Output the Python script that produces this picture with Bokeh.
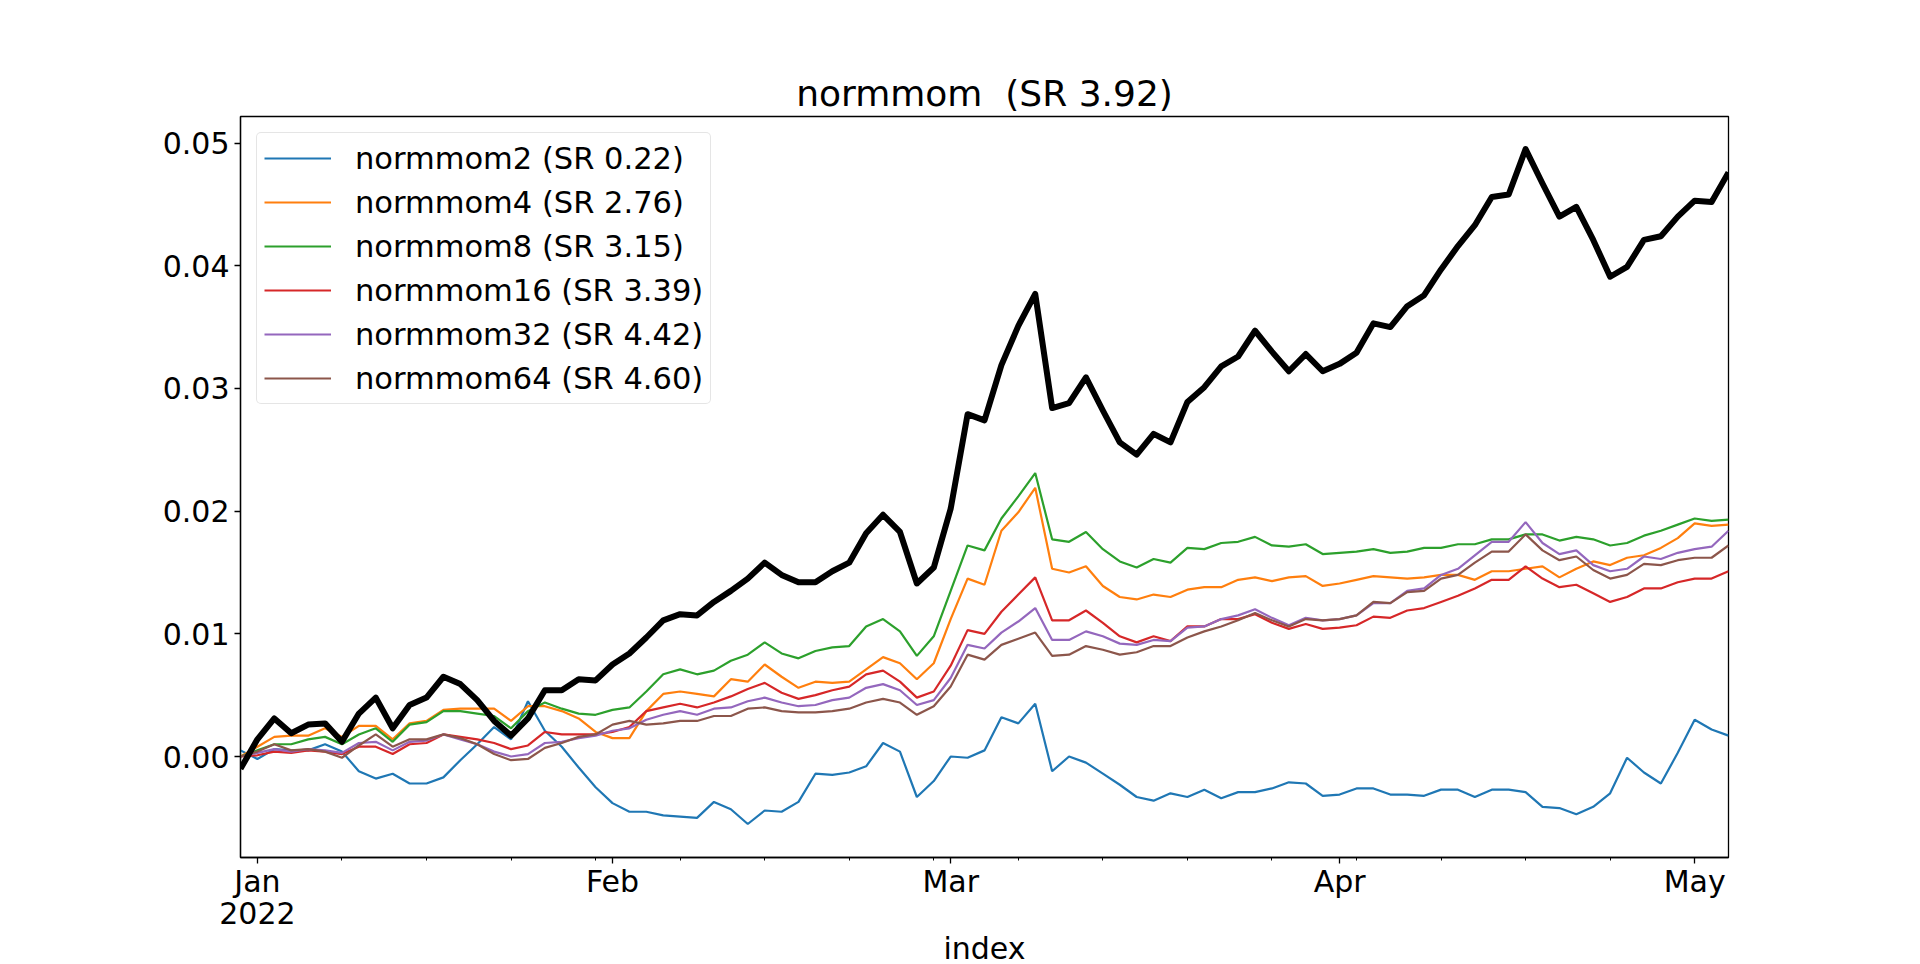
import pandas as pd
from bokeh.plotting import figure
from bokeh.models import Range1d, FixedTicker, PrintfTickFormatter, Legend, LegendItem
from bokeh.embed import file_html
from bokeh.resources import INLINE

# ---- data ----
start_date = "2021-12-31"
end_date = "2022-05-04"
dates = pd.bdate_range(start_date, end_date)

total = [-0.0010, 0.0014, 0.0031, 0.0019, 0.0026, 0.0027, 0.0012, 0.0035, 0.0048, 0.0023,
         0.0042, 0.0048, 0.0065, 0.0059, 0.0046, 0.0029, 0.0017, 0.0031, 0.0054, 0.0054,
         0.0063, 0.0062, 0.0075, 0.0084, 0.0097, 0.0111, 0.0116, 0.0115, 0.0126, 0.0135,
         0.0145, 0.0158, 0.0148, 0.0142, 0.0142, 0.0151, 0.0158, 0.0182, 0.0197, 0.0183,
         0.0141, 0.0154, 0.0202, 0.0279, 0.0274, 0.0319, 0.0351, 0.0377, 0.0284, 0.0288,
         0.0309, 0.0282, 0.0256, 0.0246, 0.0263, 0.0256, 0.0289, 0.0301, 0.0318, 0.0326,
         0.0347, 0.0330, 0.0314, 0.0328, 0.0314, 0.0320, 0.0329, 0.0353, 0.0350, 0.0367,
         0.0376, 0.0397, 0.0416, 0.0433, 0.0456, 0.0458, 0.0495, 0.0467, 0.0440, 0.0448,
         0.0421, 0.0391, 0.0399, 0.0421, 0.0424, 0.0440, 0.0453, 0.0452, 0.0476]

mom2 = [0.0005, -0.0002, 0.0006, 0.0005, 0.0005, 0.0010, 0.0004, -0.0012, -0.0018, -0.0014,
        -0.0022, -0.0022, -0.0017, -0.0003, 0.0010, 0.0024, 0.0014, 0.0045, 0.0021, 0.0008,
        -0.0009, -0.0025, -0.0038, -0.0045, -0.0045, -0.0048, -0.0049, -0.0050, -0.0037, -0.0043,
        -0.0055, -0.0044, -0.0045, -0.0037, -0.0014, -0.0015, -0.0013, -0.0008, 0.0011, 0.0004,
        -0.0033, -0.0020, 0.0000, -0.0001, 0.0005, 0.0032, 0.0027, 0.0043, -0.0012, 0.0000,
        -0.0005, -0.0014, -0.0023, -0.0033, -0.0036, -0.0030, -0.0033, -0.0027, -0.0034, -0.0029,
        -0.0029, -0.0026, -0.0021, -0.0022, -0.0032, -0.0031, -0.0026, -0.0026, -0.0031, -0.0031,
        -0.0032, -0.0027, -0.0027, -0.0033, -0.0027, -0.0027, -0.0029, -0.0041, -0.0042, -0.0047,
        -0.0041, -0.0030, -0.0001, -0.0013, -0.0022, 0.0003, 0.0030, 0.0022, 0.0017]

mom4 = [0.0000, 0.0008, 0.0016, 0.0017, 0.0017, 0.0023, 0.0016, 0.0025, 0.0025, 0.0014,
        0.0027, 0.0029, 0.0038, 0.0039, 0.0039, 0.0039, 0.0029, 0.0041, 0.0041, 0.0037,
        0.0031, 0.0020, 0.0015, 0.0015, 0.0037, 0.0051, 0.0053, 0.0051, 0.0049, 0.0063,
        0.0061, 0.0075, 0.0065, 0.0056, 0.0061, 0.0060, 0.0061, 0.0071, 0.0081, 0.0076,
        0.0063, 0.0076, 0.0112, 0.0145, 0.0140, 0.0184, 0.0199, 0.0219, 0.0153, 0.0150,
        0.0155, 0.0139, 0.0130, 0.0128, 0.0132, 0.0130, 0.0136, 0.0138, 0.0138, 0.0144,
        0.0146, 0.0143, 0.0146, 0.0147, 0.0139, 0.0141, 0.0144, 0.0147, 0.0146, 0.0145,
        0.0146, 0.0148, 0.0148, 0.0144, 0.0151, 0.0151, 0.0153, 0.0155, 0.0146, 0.0153,
        0.0159, 0.0156, 0.0162, 0.0164, 0.0170, 0.0178, 0.0190, 0.0188, 0.0189]

mom8 = [0.0000, 0.0005, 0.0010, 0.0010, 0.0014, 0.0016, 0.0010, 0.0018, 0.0023, 0.0012,
        0.0026, 0.0028, 0.0037, 0.0037, 0.0035, 0.0033, 0.0023, 0.0037, 0.0044, 0.0039,
        0.0035, 0.0034, 0.0038, 0.0040, 0.0053, 0.0067, 0.0071, 0.0067, 0.0070, 0.0078,
        0.0083, 0.0093, 0.0084, 0.0080, 0.0086, 0.0089, 0.0090, 0.0106, 0.0112, 0.0102,
        0.0082, 0.0098, 0.0135, 0.0172, 0.0168, 0.0194, 0.0212, 0.0231, 0.0177, 0.0175,
        0.0183, 0.0169, 0.0159, 0.0154, 0.0161, 0.0158, 0.0170, 0.0169, 0.0174, 0.0175,
        0.0179, 0.0172, 0.0171, 0.0173, 0.0165, 0.0166, 0.0167, 0.0169, 0.0166, 0.0167,
        0.0170, 0.0170, 0.0173, 0.0173, 0.0177, 0.0177, 0.0181, 0.0181, 0.0176, 0.0179,
        0.0177, 0.0172, 0.0174, 0.0180, 0.0184, 0.0189, 0.0194, 0.0192, 0.0193]

mom16 = [0.0000, 0.0001, 0.0004, 0.0003, 0.0005, 0.0004, 0.0002, 0.0008, 0.0008, 0.0002,
         0.0010, 0.0011, 0.0018, 0.0016, 0.0014, 0.0011, 0.0006, 0.0009, 0.0020, 0.0018,
         0.0018, 0.0018, 0.0020, 0.0024, 0.0037, 0.0040, 0.0043, 0.0040, 0.0044, 0.0049,
         0.0055, 0.0060, 0.0052, 0.0047, 0.0050, 0.0054, 0.0057, 0.0067, 0.0070, 0.0061,
         0.0048, 0.0053, 0.0074, 0.0103, 0.0100, 0.0118, 0.0132, 0.0146, 0.0111, 0.0111,
         0.0119, 0.0109, 0.0098, 0.0093, 0.0098, 0.0094, 0.0106, 0.0106, 0.0112, 0.0112,
         0.0116, 0.0109, 0.0104, 0.0108, 0.0104, 0.0105, 0.0107, 0.0114, 0.0113, 0.0119,
         0.0121, 0.0126, 0.0131, 0.0137, 0.0144, 0.0144, 0.0155, 0.0145, 0.0138, 0.0140,
         0.0133, 0.0126, 0.0130, 0.0137, 0.0137, 0.0142, 0.0145, 0.0145, 0.0151]

mom32 = [0.0000, 0.0003, 0.0006, 0.0004, 0.0006, 0.0005, 0.0003, 0.0011, 0.0012, 0.0005,
         0.0012, 0.0013, 0.0018, 0.0014, 0.0010, 0.0004, 0.0000, 0.0002, 0.0011, 0.0012,
         0.0015, 0.0017, 0.0021, 0.0023, 0.0030, 0.0034, 0.0037, 0.0034, 0.0039, 0.0040,
         0.0045, 0.0048, 0.0044, 0.0041, 0.0042, 0.0046, 0.0048, 0.0056, 0.0059, 0.0054,
         0.0042, 0.0046, 0.0064, 0.0091, 0.0088, 0.0101, 0.0110, 0.0121, 0.0095, 0.0095,
         0.0102, 0.0098, 0.0092, 0.0091, 0.0095, 0.0094, 0.0105, 0.0106, 0.0112, 0.0115,
         0.0120, 0.0113, 0.0107, 0.0113, 0.0111, 0.0112, 0.0115, 0.0125, 0.0125, 0.0135,
         0.0137, 0.0148, 0.0153, 0.0164, 0.0175, 0.0175, 0.0191, 0.0174, 0.0165, 0.0168,
         0.0156, 0.0151, 0.0153, 0.0163, 0.0161, 0.0166, 0.0169, 0.0171, 0.0184]

mom64 = [0.0000, 0.0004, 0.0010, 0.0005, 0.0006, 0.0004, -0.0001, 0.0009, 0.0018, 0.0008,
         0.0014, 0.0014, 0.0018, 0.0015, 0.0010, 0.0002, -0.0003, -0.0002, 0.0007, 0.0011,
         0.0016, 0.0018, 0.0026, 0.0029, 0.0026, 0.0027, 0.0029, 0.0029, 0.0033, 0.0033,
         0.0039, 0.0040, 0.0037, 0.0036, 0.0036, 0.0037, 0.0039, 0.0044, 0.0047, 0.0044,
         0.0034, 0.0041, 0.0057, 0.0083, 0.0079, 0.0091, 0.0096, 0.0101, 0.0082, 0.0083,
         0.0090, 0.0087, 0.0083, 0.0085, 0.0090, 0.0090, 0.0097, 0.0102, 0.0106, 0.0111,
         0.0117, 0.0111, 0.0106, 0.0112, 0.0111, 0.0112, 0.0115, 0.0126, 0.0125, 0.0134,
         0.0135, 0.0145, 0.0148, 0.0158, 0.0167, 0.0167, 0.0181, 0.0168, 0.0160, 0.0163,
         0.0152, 0.0145, 0.0148, 0.0157, 0.0156, 0.0160, 0.0162, 0.0162, 0.0172]

series = [mom2, mom4, mom8, mom16, mom32, mom64]
labels = ["normmom2 (SR 0.22)", "normmom4 (SR 2.76)", "normmom8 (SR 3.15)",
          "normmom16 (SR 3.39)", "normmom32 (SR 4.42)", "normmom64 (SR 4.60)"]
colors = ["#1f77b4", "#ff7f0e", "#2ca02c", "#d62728", "#9467bd", "#8c564b"]
title_text = "normmom \u00a0(SR 3.92)"
y_ticks = [0.00, 0.01, 0.02, 0.03, 0.04, 0.05]

# ---- figure ----
FONT = "DejaVu Sans"
xs = list(range(len(dates)))

p = figure(frame_width=1488, frame_height=741,
           x_range=Range1d(0, len(dates) - 1), y_range=Range1d(-0.00823, 0.05216),
           output_backend="svg", toolbar_location=None,
           min_border_left=240, min_border_right=176, min_border_top=116, min_border_bottom=104,
           background_fill_color="white", border_fill_color="white")

p.title.text = title_text
p.title.align = "center"
p.title.text_font = FONT
p.title.text_font_size = "36px"
p.title.text_font_style = "normal"
p.title.text_color = "black"
p.title.standoff = 5

p.grid.visible = False
p.outline_line_color = "black"
p.outline_line_width = 1.3
p.outline_line_alpha = 1.0

renderers = []
for vals, c in zip(series, colors):
    r = p.line(xs, vals, line_color=c, line_width=2.2)
    renderers.append(r)
p.line(xs, total, line_color="black", line_width=6, line_join="round")

# x ticks: month starts (major) and Mondays (minor)
major_pos, major_lab = [], []
seen = set()
for i, d in enumerate(dates):
    key = (d.year, d.month)
    if d.year == 2022 and key not in seen:
        seen.add(key)
        major_pos.append(i)
        lab = d.strftime("%b")
        if d.month == 1:
            lab = lab + "\n" + str(d.year)
        major_lab.append(lab)
minor_pos = [i for i, d in enumerate(dates) if d.weekday() == 0]

xa = p.xaxis[0]
xa.ticker = FixedTicker(ticks=major_pos, minor_ticks=minor_pos)
xa.major_label_overrides = {pos: lab for pos, lab in zip(major_pos, major_lab)}
xa.axis_label = "index"
ya = p.yaxis[0]
ya.ticker = FixedTicker(ticks=y_ticks)
ya.formatter = PrintfTickFormatter(format="%.2f")

for ax in (xa, ya):
    ax.major_label_text_font = FONT
    ax.major_label_text_font_size = "30px"
    ax.major_label_text_color = "black"
    ax.axis_label_text_font = FONT
    ax.axis_label_text_font_size = "30px"
    ax.axis_label_text_font_style = "normal"
    ax.axis_label_text_color = "black"
    ax.axis_line_color = "black"
    ax.axis_line_width = 1.3
    ax.major_tick_line_color = "black"
    ax.major_tick_line_width = 1.3
    ax.minor_tick_line_color = "black"
    ax.minor_tick_line_width = 1.0
    ax.major_tick_out = 6
    ax.major_tick_in = 0
    ax.minor_tick_out = 3
    ax.minor_tick_in = 0
    ax.major_label_standoff = 5
ya.minor_tick_out = 0
xa.major_label_standoff = 0
xa.major_label_text_line_height = 0.92
xa.axis_label_standoff = -3

legend = Legend(items=[LegendItem(label=l, renderers=[r]) for l, r in zip(labels, renderers)],
                location="top_left")
legend.margin = 16
legend.padding = 7
legend.spacing = 8
legend.glyph_width = 67
legend.glyph_height = 36
legend.label_height = 36
legend.label_standoff = 24
legend.label_text_font = FONT
legend.label_text_font_size = "30.5px"
legend.label_text_color = "black"
legend.border_line_color = "#cccccc"
legend.border_line_width = 1.3
legend.background_fill_color = "white"
legend.background_fill_alpha = 0.8
try:
    legend.border_radius = 5
except Exception:
    pass
p.add_layout(legend)

open("out.html", "w").write(file_html(p, INLINE))
